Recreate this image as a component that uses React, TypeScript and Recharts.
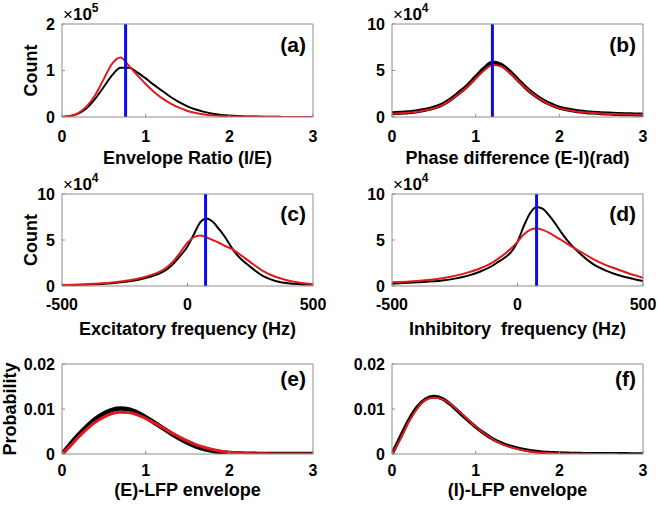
import React from 'react';
import { LineChart, Line, XAxis, YAxis, ReferenceLine } from 'recharts';

const FONT = '"Liberation Sans", Arial, Helvetica, sans-serif';
const AXIS_COLOR = '#8c8c8c';
const BLACK = '#000000';
const RED = '#e0191b';
const BLUE = '#0b0bec';

// ---------- (a) Envelope Ratio (I/E), counts in units of 1e5 ----------
const ratioX = [0, 0.1, 0.2, 0.3, 0.4, 0.5, 0.6, 0.7, 0.8, 0.9, 1.0, 1.1, 1.2, 1.3, 1.4, 1.5, 1.6, 1.7, 1.8, 1.9, 2.0, 2.1, 2.2, 2.3, 2.4, 2.5, 2.6, 2.7, 2.8, 2.9, 3.0];
const ratioBlack = [0, 0.02, 0.08, 0.2, 0.4, 0.65, 0.9, 1.06, 1.06, 0.96, 0.83, 0.69, 0.56, 0.43, 0.32, 0.23, 0.16, 0.11, 0.07, 0.045, 0.03, 0.02, 0.013, 0.009, 0.006, 0.004, 0.003, 0.002, 0.002, 0.001, 0.001];
const ratioRed = [0, 0.02, 0.09, 0.24, 0.48, 0.82, 1.15, 1.28, 1.1, 0.9, 0.71, 0.54, 0.4, 0.29, 0.2, 0.13, 0.085, 0.055, 0.035, 0.022, 0.014, 0.009, 0.006, 0.004, 0.003, 0.002, 0.001, 0.001, 0.001, 0.001, 0.001];
const ratioMean = 0.76;

// ---------- (b) Phase difference (E-I)(rad), counts in units of 1e4 ----------
const phaseX = ratioX;
const phaseBlack = [0.4, 0.45, 0.52, 0.62, 0.78, 1.0, 1.35, 1.9, 2.6, 3.35, 4.3, 5.2, 5.85, 5.65, 4.95, 4.05, 3.15, 2.4, 1.8, 1.35, 1.0, 0.8, 0.65, 0.55, 0.47, 0.41, 0.37, 0.33, 0.3, 0.28, 0.26];
const phaseRed = [0.35, 0.4, 0.47, 0.57, 0.72, 0.94, 1.28, 1.82, 2.5, 3.25, 4.15, 5.0, 5.6, 5.45, 4.8, 3.95, 3.1, 2.35, 1.75, 1.3, 0.95, 0.75, 0.6, 0.5, 0.43, 0.37, 0.33, 0.3, 0.27, 0.25, 0.23];
const phaseMean = 1.2;

// ---------- (c) Excitatory frequency (Hz), counts in units of 1e4 ----------
const freqX = [-500, -400, -300, -250, -200, -150, -100, -75, -50, -25, 0, 25, 50, 75, 100, 125, 150, 175, 200, 250, 300, 350, 400, 450, 500];
const excBlack = [0.1, 0.15, 0.3, 0.45, 0.65, 1.0, 1.5, 1.95, 2.6, 3.4, 4.3, 5.6, 6.9, 7.35, 7.0, 6.2, 5.3, 4.2, 3.3, 2.1, 1.1, 0.55, 0.3, 0.2, 0.15];
const excRed = [0.12, 0.2, 0.38, 0.55, 0.78, 1.15, 1.7, 2.2, 2.9, 3.8, 4.7, 5.3, 5.5, 5.3, 5.0, 4.7, 4.35, 4.05, 3.6, 2.6, 1.65, 1.0, 0.6, 0.35, 0.2];
const excMean = 72;

// ---------- (d) Inhibitory frequency (Hz), counts in units of 1e4 ----------
const inhBlack = [0.25, 0.4, 0.6, 0.8, 1.1, 1.55, 2.2, 2.65, 3.1, 3.7, 4.8, 6.5, 7.9, 8.6, 8.4, 7.7, 6.8, 5.8, 4.9, 3.5, 2.4, 1.7, 1.2, 0.85, 0.55];
const inhRed = [0.4, 0.55, 0.85, 1.1, 1.45, 1.9, 2.55, 3.0, 3.5, 4.1, 4.8, 5.6, 6.1, 6.25, 6.1, 5.8, 5.4, 5.0, 4.55, 3.75, 2.95, 2.3, 1.8, 1.3, 0.9];
const inhMean = 76;

// ---------- (e) (E)-LFP envelope, probability ----------
const envX = ratioX;
const envEBlack = [0, 0.0022, 0.0043, 0.0062, 0.0078, 0.009, 0.0098, 0.0101, 0.0099, 0.0092, 0.0082, 0.007, 0.0058, 0.0046, 0.0035, 0.0025, 0.0017, 0.0011, 0.0007, 0.0004, 0.0002, 0.0001, 0.00005, 0.00003, 0.00002, 0.00001, 0, 0, 0, 0, 0];
const envERed = [0, 0.0018, 0.0038, 0.0056, 0.0071, 0.0082, 0.009, 0.0093, 0.0092, 0.0087, 0.0079, 0.0069, 0.0059, 0.0048, 0.0038, 0.0029, 0.0021, 0.0015, 0.001, 0.0006, 0.0004, 0.0002, 0.0001, 0.00006, 0.00004, 0.00002, 0.00001, 0, 0, 0, 0];

// ---------- (f) (I)-LFP envelope, probability ----------
const envIBlack = [0, 0.0038, 0.0075, 0.0104, 0.0122, 0.0128, 0.0123, 0.011, 0.0093, 0.0076, 0.006, 0.0046, 0.0034, 0.0025, 0.0018, 0.0013, 0.0009, 0.0006, 0.0004, 0.0003, 0.0002, 0.00015, 0.0001, 0.00008, 0.00006, 0.00005, 0.00004, 0.00003, 0.00003, 0.00002, 0.00002];
const envIRed = [0, 0.0033, 0.0071, 0.0101, 0.012, 0.0125, 0.0122, 0.0111, 0.0095, 0.0078, 0.0061, 0.0046, 0.0033, 0.0023, 0.0016, 0.0011, 0.0007, 0.0004, 0.0003, 0.0002, 0.0001, 0.00007, 0.00005, 0.00003, 0.00002, 0.00001, 0.00001, 0.00001, null, null, null];

// ---------- axes / labels ----------
const unitTicks = [0, 1, 2, 3];
const freqTicks = [-500, 0, 500];
const countTicksA = [0, 1, 2];
const countTicks = [0, 5, 10];
const probTicks = [0, 0.01, 0.02];

const build = (xs: number[], b: (number | null)[], r: (number | null)[]) =>
  xs.map((x, i) => ({ x, black: b[i], red: r[i] }));

type PanelProps = {
  left: number;
  top: number;
  width: number;
  height: number;
  plotTop: number;
  plotBottom: number;
  data: any[];
  xDomain: [number, number];
  xTicks: number[];
  yDomain: [number, number];
  yTicks: number[];
  yFmt?: (v: number) => string;
  blackW: number;
  redW: number;
  refX?: number;
  xLabel: string;
  yLabel?: string;
  yLabelX?: number;
  exponent?: string;
  tag: string;
  tagDy: number;
  tickGap: number;
  xLabelDy: number;
};

const PLOT_LEFT = 62;
const PLOT_RIGHT = 313;

function Panel(p: PanelProps) {
  const tickStyle = { fill: '#000', fontSize: 16, fontWeight: 'bold', fontFamily: FONT };
  return (
    <div style={{ position: 'absolute', left: p.left, top: p.top, width: p.width, height: p.height }}>
      <LineChart
        width={p.width}
        height={p.height}
        data={p.data}
        margin={{ top: p.plotTop - 1, right: p.width - PLOT_RIGHT - 1, bottom: 0, left: 0 }}
      >
        <XAxis
          dataKey="x"
          type="number"
          domain={p.xDomain}
          ticks={p.xTicks}
          allowDataOverflow
          interval={0}
          height={p.height - p.plotBottom}
          stroke={AXIS_COLOR}
          tickSize={-3}
          tickMargin={p.tickGap + 3}
          tick={tickStyle}
          label={{
            content: (lp: any) => {
              const vb = lp.viewBox || {};
              return (
                <text
                  x={PLOT_LEFT + (PLOT_RIGHT - PLOT_LEFT) / 2}
                  y={(vb.y ?? p.plotBottom) + p.xLabelDy}
                  textAnchor="middle"
                  fontSize={18}
                  fontWeight="bold"
                  fontFamily={FONT}
                  fill="#000"
                >
                  {p.xLabel}
                </text>
              );
            },
          }}
        />
        <XAxis
          xAxisId="top"
          orientation="top"
          dataKey="x"
          type="number"
          domain={p.xDomain}
          ticks={p.xTicks}
          allowDataOverflow
          interval={0}
          height={1}
          stroke={AXIS_COLOR}
          tickSize={-3}
          tick={false}
          label={{
            content: () => (
              <g>
                {p.exponent ? (
                  <text x={PLOT_LEFT + 1} y={p.plotTop - 4} fontFamily={FONT} fill="#000" style={{ fontSize: 17 }}>
                    <tspan style={{ fontSize: 17, fontWeight: 'normal' }}>×</tspan>
                    <tspan style={{ fontSize: 17, fontWeight: 'bold' }}>10</tspan>
                    <tspan style={{ fontSize: 12, fontWeight: 'bold' }} dy={-8}>{p.exponent}</tspan>
                  </text>
                ) : null}
                <text
                  x={PLOT_RIGHT - 7}
                  y={p.plotTop + p.tagDy}
                  textAnchor="end"
                  fontSize={21}
                  fontWeight="bold"
                  fontFamily={FONT}
                  fill="#000"
                >
                  {p.tag}
                </text>
              </g>
            ),
          }}
        />
        <YAxis
          type="number"
          domain={p.yDomain}
          ticks={p.yTicks}
          allowDataOverflow
          interval={0}
          width={PLOT_LEFT}
          stroke={AXIS_COLOR}
          tickSize={-3}
          tickMargin={10}
          tick={tickStyle}
          tickFormatter={p.yFmt}
          label={
            p.yLabel
              ? {
                  content: () => {
                    const cx = p.yLabelX ?? 31;
                    const cy = p.plotTop + (p.plotBottom - p.plotTop) / 2;
                    return (
                      <text
                        x={cx}
                        y={cy}
                        transform={`rotate(-90, ${cx}, ${cy})`}
                        textAnchor="middle"
                        dominantBaseline="central"
                        fontSize={18}
                        fontWeight="bold"
                        fontFamily={FONT}
                        fill="#000"
                      >
                        {p.yLabel}
                      </text>
                    );
                  },
                }
              : undefined
          }
        />
        <YAxis
          yAxisId="right"
          orientation="right"
          type="number"
          domain={p.yDomain}
          ticks={p.yTicks}
          allowDataOverflow
          interval={0}
          width={1}
          stroke={AXIS_COLOR}
          tickSize={-3}
          tick={false}
        />
        <Line
          dataKey="black"
          type="monotone"
          stroke={BLACK}
          strokeWidth={p.blackW}
          dot={false}
          isAnimationActive={false}
          connectNulls={false}
        />
        <Line
          dataKey="red"
          type="monotone"
          stroke={RED}
          strokeWidth={p.redW}
          dot={false}
          isAnimationActive={false}
          connectNulls={false}
        />
        {p.refX !== undefined ? (
          <ReferenceLine x={p.refX} stroke={BLUE} strokeWidth={3} ifOverflow="extendDomain" />
        ) : null}
      </LineChart>
    </div>
  );
}

const probFmt = (v: number) => (v === 0 ? '0' : v.toFixed(2));

export default function App() {
  return (
    <div style={{ position: 'absolute', left: 0, top: 0, width: 658, height: 507, background: '#fff' }}>
      <Panel
        left={0} top={0} width={329} height={170} plotTop={24} plotBottom={117}
        data={build(ratioX, ratioBlack, ratioRed)}
        xDomain={[0, 3]} xTicks={unitTicks} yDomain={[0, 2]} yTicks={countTicksA}
        blackW={2} redW={2} refX={ratioMean}
        xLabel="Envelope Ratio (I/E)" yLabel="Count" yLabelX={31} exponent="5"
        tag="(a)" tagDy={28} tickGap={14} xLabelDy={47}
      />
      <Panel
        left={330} top={0} width={328} height={170} plotTop={24} plotBottom={117}
        data={build(phaseX, phaseBlack, phaseRed)}
        xDomain={[0, 3]} xTicks={unitTicks} yDomain={[0, 10]} yTicks={countTicks}
        blackW={4} redW={2} refX={phaseMean}
        xLabel="Phase difference (E-I)(rad)" exponent="4"
        tag="(b)" tagDy={28} tickGap={14} xLabelDy={47}
      />
      <Panel
        left={0} top={170} width={329} height={170} plotTop={24} plotBottom={116}
        data={build(freqX, excBlack, excRed)}
        xDomain={[-500, 500]} xTicks={freqTicks} yDomain={[0, 10]} yTicks={countTicks}
        blackW={2} redW={2} refX={excMean}
        xLabel="Excitatory frequency (Hz)" yLabel="Count" yLabelX={31} exponent="4"
        tag="(c)" tagDy={27} tickGap={13} xLabelDy={49}
      />
      <Panel
        left={330} top={170} width={328} height={170} plotTop={24} plotBottom={116}
        data={build(freqX, inhBlack, inhRed)}
        xDomain={[-500, 500]} xTicks={freqTicks} yDomain={[0, 10]} yTicks={countTicks}
        blackW={2} redW={2} refX={inhMean}
        xLabel={'Inhibitory\u00a0 frequency (Hz)'} exponent="4"
        tag="(d)" tagDy={27} tickGap={13} xLabelDy={49}
      />
      <Panel
        left={0} top={340} width={329} height={167} plotTop={24} plotBottom={114}
        data={build(envX, envEBlack, envERed)}
        xDomain={[0, 3]} xTicks={unitTicks} yDomain={[0, 0.02]} yTicks={probTicks} yFmt={probFmt}
        blackW={4.5} redW={3}
        xLabel="(E)-LFP envelope" yLabel="Probability" yLabelX={10}
        tag="(e)" tagDy={22} tickGap={11} xLabelDy={42}
      />
      <Panel
        left={330} top={340} width={328} height={167} plotTop={24} plotBottom={114}
        data={build(envX, envIBlack, envIRed)}
        xDomain={[0, 3]} xTicks={unitTicks} yDomain={[0, 0.02]} yTicks={probTicks} yFmt={probFmt}
        blackW={3.5} redW={2}
        xLabel="(I)-LFP envelope"
        tag="(f)" tagDy={22} tickGap={11} xLabelDy={42}
      />
    </div>
  );
}
